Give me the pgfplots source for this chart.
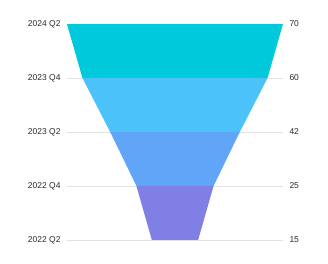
\documentclass[border=0pt]{standalone}
\usepackage{pgfplots}
\pgfplotsset{compat=1.18}
\usepackage{fontspec}
\setmainfont{Liberation Sans}
\definecolor{c1}{RGB}{0,201,220}
\definecolor{c2}{RGB}{76,194,251}
\definecolor{c3}{RGB}{97,165,249}
\definecolor{c4}{RGB}{127,127,230}
\definecolor{gridc}{RGB}{226,226,226}
\definecolor{txt}{RGB}{40,40,40}
\begin{document}
\begin{tikzpicture}
\useasboundingbox (-67bp,-24bp) rectangle (261bp,240bp);
\pgfplotsset{
  funnelbase/.style={
    at={(0,0)}, anchor=south west,
    scale only axis, width=216bp, height=216bp,
    xmin=-35, xmax=35, ymin=0, ymax=4,
    axis line style={draw=none},
    major tick length=0pt,
    xtick=\empty,
    ytick={0,1,2,3,4},
    tick label style={font=\fontsize{8.5}{10}\selectfont, text=txt},
    /pgf/number format/assume math mode=true,
  }
}
\begin{axis}[funnelbase,
  ymajorgrids, grid style={gridc, line width=0.6pt},
  yticklabels={2022 Q2,2022 Q4,2023 Q2,2023 Q4,2024 Q2},
  yticklabel style={xshift=-3bp},
]
\addplot[draw=none, fill=c1] coordinates {(-35,4) (35,4) (30,3) (-30,3)} -- cycle;
\addplot[draw=none, fill=c2] coordinates {(-30,3) (30,3) (21,2) (-21,2)} -- cycle;
\addplot[draw=none, fill=c3] coordinates {(-21,2) (21,2) (12.5,1) (-12.5,1)} -- cycle;
\addplot[draw=none, fill=c4] coordinates {(-12.5,1) (12.5,1) (7.5,0) (-7.5,0)} -- cycle;
\end{axis}
\begin{axis}[funnelbase,
  yticklabel pos=right,
  yticklabels={15,25,42,60,70},
  yticklabel style={xshift=3bp},
]
\end{axis}
\end{tikzpicture}
\end{document}
